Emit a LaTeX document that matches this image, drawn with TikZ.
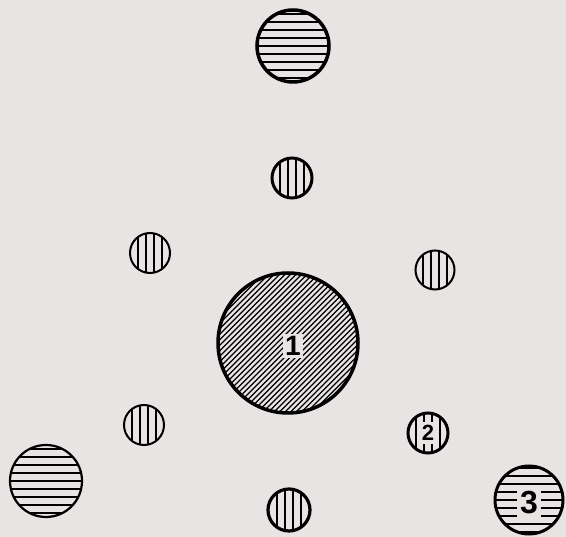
\documentclass[tikz,border=0pt]{standalone}
\usepackage{fontspec}
\setsansfont{Liberation Sans}
\usetikzlibrary{calc}

\definecolor{paper}{RGB}{232,228,228}

\begin{document}
\begin{tikzpicture}[x=1pt, y=-1pt,
    disc/.style={draw, circle, line width=3pt, inner sep=0pt},
    hlines/.style={path picture={\foreach \d in {-32,-24,...,32}
        \draw[line width=1.4pt] ([yshift=\d pt]path picture bounding box.center) ++(-60pt,0) -- ++(120pt,0);}},
    vlines/.style={path picture={\foreach \d in {-12,-4,...,12}
        \draw[line width=1.4pt] ([xshift=\d pt]path picture bounding box.center) ++(0,-30pt) -- ++(0,60pt);}},
    dlines/.style={path picture={\foreach \d in {-209,-203.5,...,210}
        \draw[line width=1.3pt] ([xshift=\d pt]path picture bounding box.center) ++(-95pt,-95pt) -- ++(190pt,190pt);}},
    num/.style={fill=paper, inner sep=2pt}
]
\fill[paper] (0,0) rectangle (566,537);

\node[disc, hlines, minimum size=72pt, line width=3.5pt] (top) at (293,46) {};
\node[disc, vlines, minimum size=40pt] (n) at (292,178) {};
\node[disc, vlines, minimum size=40pt, line width=2pt] (nw) at (150,253) {};
\node[disc, vlines, minimum size=39pt, line width=2pt] (ne) at (435,270) {};
\node[disc, dlines, minimum size=140pt, line width=3.5pt] (c) at (288,343) {};
\node[disc, vlines, minimum size=40pt, line width=2pt] (sw) at (144,425) {};
\node[disc, vlines, minimum size=40pt] (two) at (428,433) {};
\node[disc, hlines, minimum size=72pt, line width=2.2pt] (bl) at (46,481) {};
\node[disc, vlines, minimum size=42pt, line width=3.2pt] (s) at (289,510) {};
\node[disc, hlines, minimum size=68pt] (three) at (529,500) {};

\node[num, font=\sffamily\bfseries\fontsize{28}{28}\selectfont] (one) at (293,346) {1};
\node[num, font=\sffamily\bfseries\fontsize{22}{22}\selectfont, inner sep=3pt] (twolbl) at (two) {2};
\node[num, font=\sffamily\bfseries\fontsize{32}{32}\selectfont, inner sep=3pt] (threelbl) at (529,503) {3};
\end{tikzpicture}
\end{document}
